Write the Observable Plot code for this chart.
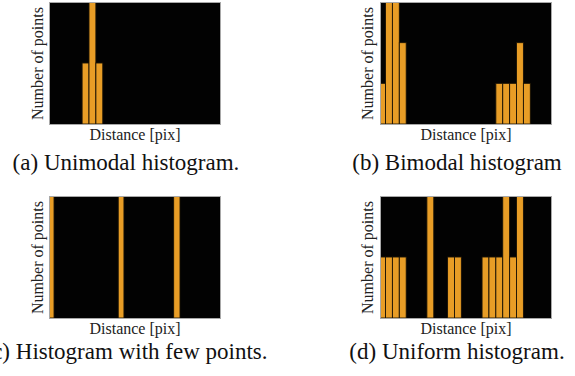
<!DOCTYPE html>
<html>
<head>
<meta charset="utf-8">
<script src="https://cdn.jsdelivr.net/npm/d3@7"></script>
<script src="https://cdn.jsdelivr.net/npm/@observablehq/plot@0.6"></script>
<style>
  html, body { margin: 0; padding: 0; background: #fff; }
  #root { position: relative; width: 575px; height: 376px; overflow: hidden; background: #fff; }
  .panel { position: absolute; }
  .cap { position: absolute; width: 400px; text-align: center; white-space: nowrap;
         font-family: "Liberation Serif", "Times New Roman", serif; font-size: 23px; line-height: 23px; color: #111; }
</style>
</head>
<body>
<div id="root"></div>
<script>
// Bin counts (25 bins per histogram, bin index 0..24)
const countsA = [0,0,0,0,0,1,2,1,0,0,0,0,0,0,0,0,0,0,0,0,0,0,0,0,0];
const countsB = [1,3,3,2,0,0,0,0,0,0,0,0,0,0,0,0,0,1,1,1,2,1,0,0,0];
const countsD = [1,1,1,1,0,0,0,2,0,0,1,1,0,0,0,1,1,1,2,1,2,0,0,0,0];
// Few-points histogram: explicit bar edges (in bin units) and counts
const cLeft   = [0, 10.24, 18.28];
const cRight  = [0.93, 11.07, 19.2];
const cCounts = [1, 1, 1];

const xLabel = "Distance [pix]";
const yLabel = "Number of points";
const captions = ["(a) Unimodal histogram.", "(b) Bimodal histogram", "(c) Histogram with few points.", "(d) Uniform histogram."];

const orange = "#E89D26";

function binRows(counts) {
  return counts.map((c, i) => ({x1: i, x2: i + 1, y: c})).filter(d => d.y > 0);
}

function panel(rows, ymax, opts) {
  return Plot.plot({
    width: 230,
    height: 150,
    marginLeft: opts.ml,
    marginRight: 230 - opts.ml - 171,
    marginTop: 2,
    marginBottom: 26,
    style: {fontFamily: "Liberation Serif, serif", fontSize: "16px", background: "transparent", overflow: "visible"},
    x: {domain: [0.2, 25], axis: null},
    y: {domain: [0, ymax], axis: null},
    marks: [
      Plot.frame({fill: "#020202", stroke: null}),
      Plot.rectY(rows, {x1: "x1", x2: "x2", y: "y", fill: orange, stroke: "#1a1205", strokeWidth: 0.9, clip: true}),
      Plot.frame({stroke: "#a8a8a8", strokeWidth: 1}),
      Plot.text([xLabel], {frameAnchor: "bottom", textAnchor: "middle", lineAnchor: "middle", dy: 10, fontSize: 16, fill: "#222"}),
      Plot.text([yLabel], {frameAnchor: "left", textAnchor: "middle", lineAnchor: "middle", rotate: -90, dx: opts.ydx, fontSize: 16, fill: "#222"})
    ]
  });
}

const root = document.getElementById("root");
const rowsC = cLeft.map((l, i) => ({x1: l, x2: cRight[i], y: cCounts[i]}));
const specs = [
  {rows: binRows(countsA), ymax: 2, left: 0,   top: 0,   ml: 49, ydx: -12},
  {rows: binRows(countsB), ymax: 3, left: 330, top: 0,   ml: 50, ydx: -13},
  {rows: rowsC,            ymax: 1, left: 0,   top: 194, ml: 49, ydx: -12},
  {rows: binRows(countsD), ymax: 2, left: 330, top: 194, ml: 50, ydx: -13}
];
specs.forEach(s => {
  const el = panel(s.rows, s.ymax, s);
  el.classList.add("panel");
  el.style.left = s.left + "px";
  el.style.top = s.top + "px";
  root.appendChild(el);
});
const capPos = [[126, 151], [457, 151], [126, 340], [457, 340]];
captions.forEach((t, i) => {
  const d = document.createElement("div");
  d.className = "cap";
  d.textContent = t;
  d.style.left = (capPos[i][0] - 200) + "px";
  d.style.top = capPos[i][1] + "px";
  root.appendChild(d);
});
</script>
</body>
</html>
